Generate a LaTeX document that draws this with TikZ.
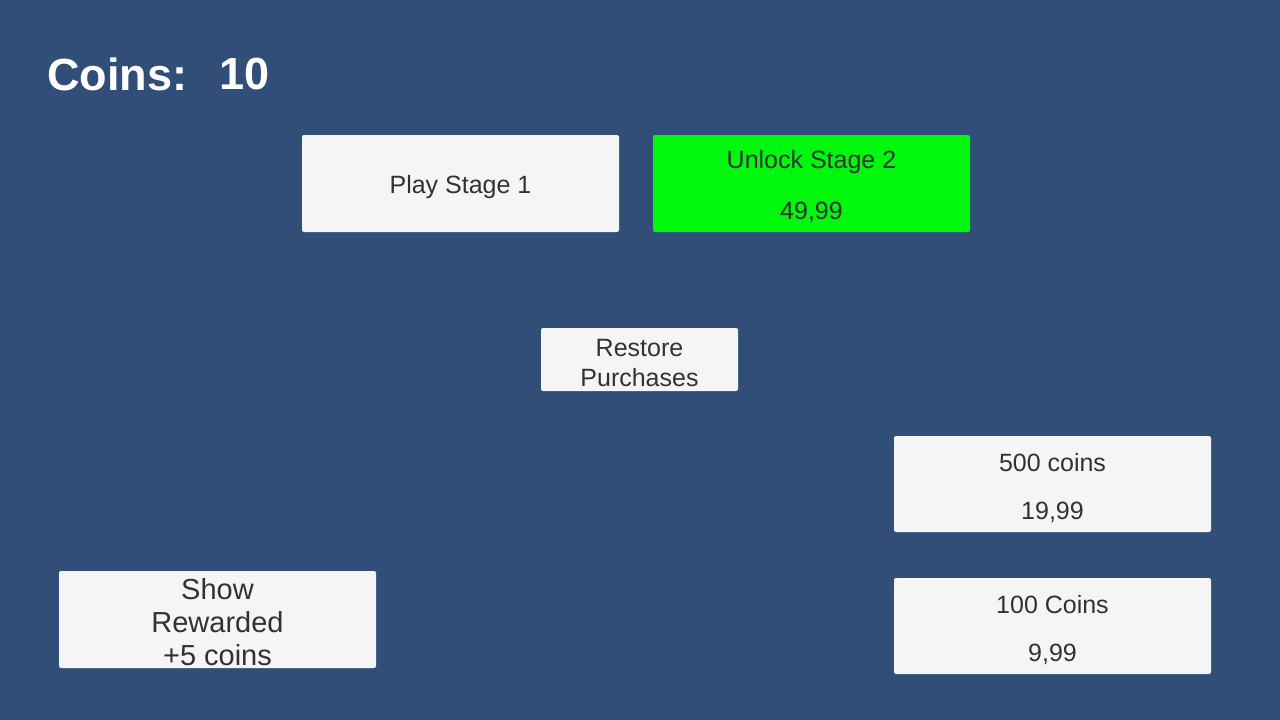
\documentclass[tikz,border=0pt]{standalone}
\usepackage{fontspec}
\setmainfont{Liberation Sans}
\definecolor{bg}{RGB}{49,78,121}
\definecolor{btn}{RGB}{245,245,245}
\definecolor{btntext}{RGB}{50,50,50}
\definecolor{green}{RGB}{0,248,12}
\begin{document}
\begin{tikzpicture}[x=1pt,y=-1pt,
  button/.style={fill=btn,draw=none,rounded corners=2pt},
  label/.style={text=btntext,font=\fontsize{25}{30}\selectfont,inner sep=0pt,anchor=center,yshift=-3pt}]
\fill[bg] (0,0) rectangle (1280,720);
\useasboundingbox (0,0) rectangle (1280,720);
% Coins
\node[anchor=west,text=white,font=\bfseries\fontsize{45}{54}\selectfont,inner sep=0pt] (coins) at (47,74) {Coins:};
\node[anchor=west,text=white,font=\bfseries\fontsize{45}{54}\selectfont,inner sep=0pt] (cval) at (219,74) {10};
% Play Stage 1
\fill[button] (302,135) rectangle (619,232);
\node[label] (play) at (460.5,184) {Play Stage 1};
% Unlock Stage 2
\fill[button,fill=green] (653,135) rectangle (970,232);
\node[label] (unlock) at (811.5,159) {Unlock Stage 2};
\node[label] (unlockp) at (811.5,209) {49,99};
% Restore
\fill[button] (541,328) rectangle (738,391);
\node[label] (restore1) at (639.5,345) {Restore};
\node[label] (restore2) at (639.5,375) {Purchases};
% 500 coins
\fill[button] (894,436) rectangle (1211,532);
\node[label] (c500) at (1052.5,460) {500 coins};
\node[label] (c500p) at (1052.5,509) {19,99};
% 100 Coins
\fill[button] (894,578) rectangle (1211,674);
\node[label] (c100) at (1052.5,602) {100 Coins};
\node[label] (c100p) at (1052.5,651) {9,99};
% Show Rewarded
\fill[button] (59,571) rectangle (376,668);
\node[label,font=\fontsize{29}{33}\selectfont] (rew1) at (217.5,586) {Show};
\node[label,font=\fontsize{29}{33}\selectfont] (rew2) at (217.5,619) {Rewarded};
\node[label,font=\fontsize{29}{33}\selectfont] (rew3) at (217.5,652) {+5 coins};
\end{tikzpicture}
\end{document}
